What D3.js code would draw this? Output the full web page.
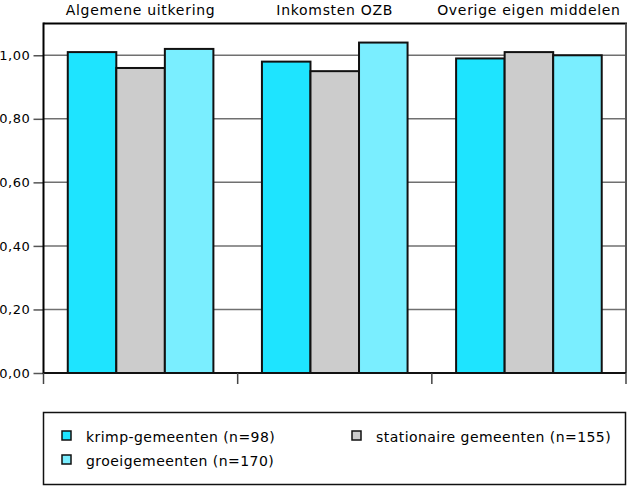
<!DOCTYPE html>
<html><head><meta charset="utf-8">
<script src="https://cdn.jsdelivr.net/npm/d3@7"></script>
<style>body{margin:0;background:#fff}svg{display:block}text{font-family:"DejaVu Sans",sans-serif;fill:#000}</style>
</head><body><svg id="c" width="628" height="486"></svg>
<script>
const categories = ["Algemene uitkering", "Inkomsten OZB", "Overige eigen middelen"];
const seriesNames = ["krimp-gemeenten (n=98)", "stationaire gemeenten (n=155)", "groeigemeenten (n=170)"];
const krimp = [1.01, 0.98, 0.99];
const stationair = [0.96, 0.95, 1.01];
const groei = [1.02, 1.04, 1.00];
const yTicks = [0, 0.2, 0.4, 0.6, 0.8, 1.0];
const colors = ["#1ee4ff", "#cccccc", "#7aeeff"];

const seriesValues = [krimp, stationair, groei];
const svg = d3.select("#c");
const L = 43.5, R = 626, T = 23.5, B = 373;
const x0 = d3.scaleBand().domain(categories).range([L, R]).padding(0);
const x1 = d3.scaleBand().domain(d3.range(3)).range([0, x0.bandwidth()]).paddingInner(0).paddingOuter(0.5);
const y = d3.scaleLinear().domain([0, 1.1]).range([B, T]);
const fmt = d => d3.format(".2f")(d).replace(".", ",");

// gridlines
svg.append("g").selectAll("line").data(yTicks.filter(d => d > 0)).join("line")
  .attr("x1", L).attr("x2", R).attr("y1", d => y(d)).attr("y2", d => y(d))
  .attr("stroke", "#707070").attr("stroke-width", 1.5);

// bars
const groups = svg.append("g").selectAll("g").data(categories).join("g")
  .attr("transform", c => `translate(${x0(c)},0)`);
groups.selectAll("rect").data((c, i) => seriesValues.map((s, k) => ({k, v: s[i]}))).join("rect")
  .attr("x", d => x1(d.k)).attr("width", x1.bandwidth())
  .attr("y", d => y(d.v)).attr("height", d => B - y(d.v))
  .attr("fill", d => colors[d.k]).attr("stroke", "#111").attr("stroke-width", 2);

// frame
svg.append("line").attr("x1", L).attr("x2", R + 1).attr("y1", T).attr("y2", T).attr("stroke", "#000").attr("stroke-width", 2);
svg.append("line").attr("x1", R).attr("x2", R).attr("y1", T).attr("y2", B).attr("stroke", "#555").attr("stroke-width", 2);

// y axis
const ya = svg.append("g").attr("transform", `translate(${L},0)`)
  .call(d3.axisLeft(y).tickValues(yTicks).tickFormat(fmt).tickSize(10).tickPadding(3));
ya.select(".domain").remove();
ya.selectAll(".tick line").attr("stroke", "#555").attr("stroke-width", 1.5);
ya.selectAll(".tick text").attr("font-size", 13).attr("font-family", "DejaVu Sans").attr("fill", "#000")
  .attr("letter-spacing", 0.6);
svg.append("line").attr("x1", L).attr("x2", L).attr("y1", T - 1).attr("y2", B + 1).attr("stroke", "#000").attr("stroke-width", 2);

// x axis
svg.append("line").attr("x1", L).attr("x2", R).attr("y1", B).attr("y2", B).attr("stroke", "#111").attr("stroke-width", 2);
const bounds = categories.map(c => x0(c)).concat([x0(categories[2]) + x0.bandwidth()]);
svg.append("g").selectAll("line").data(bounds).join("line")
  .attr("x1", d => d).attr("x2", d => d).attr("y1", B).attr("y2", B + 11)
  .attr("stroke", "#444").attr("stroke-width", 1.5);

// category labels
svg.append("g").selectAll("text").data(categories).join("text")
  .attr("x", c => x0(c) + x0.bandwidth() / 2).attr("y", 15)
  .attr("text-anchor", "middle").attr("font-size", 14).attr("letter-spacing", 0.7).text(c => c);

// legend
svg.append("rect").attr("x", 43.5).attr("y", 412.5).attr("width", 582).attr("height", 72)
  .attr("fill", "#fff").attr("stroke", "#111").attr("stroke-width", 1.5);
const legPos = [[62, 431], [352, 431], [62, 455]];
const lg = svg.append("g").selectAll("g").data(seriesNames).join("g")
  .attr("transform", (d, i) => `translate(${legPos[i][0]},${legPos[i][1]})`);
lg.append("rect").attr("x", 0).attr("y", 0).attr("width", 9).attr("height", 9)
  .attr("fill", (d, i) => colors[i]).attr("stroke", "#111").attr("stroke-width", 1.5);
lg.append("text").attr("x", 24).attr("y", 10.5).attr("font-size", 14).attr("letter-spacing", 0.45).text(d => d);
</script></body></html>
